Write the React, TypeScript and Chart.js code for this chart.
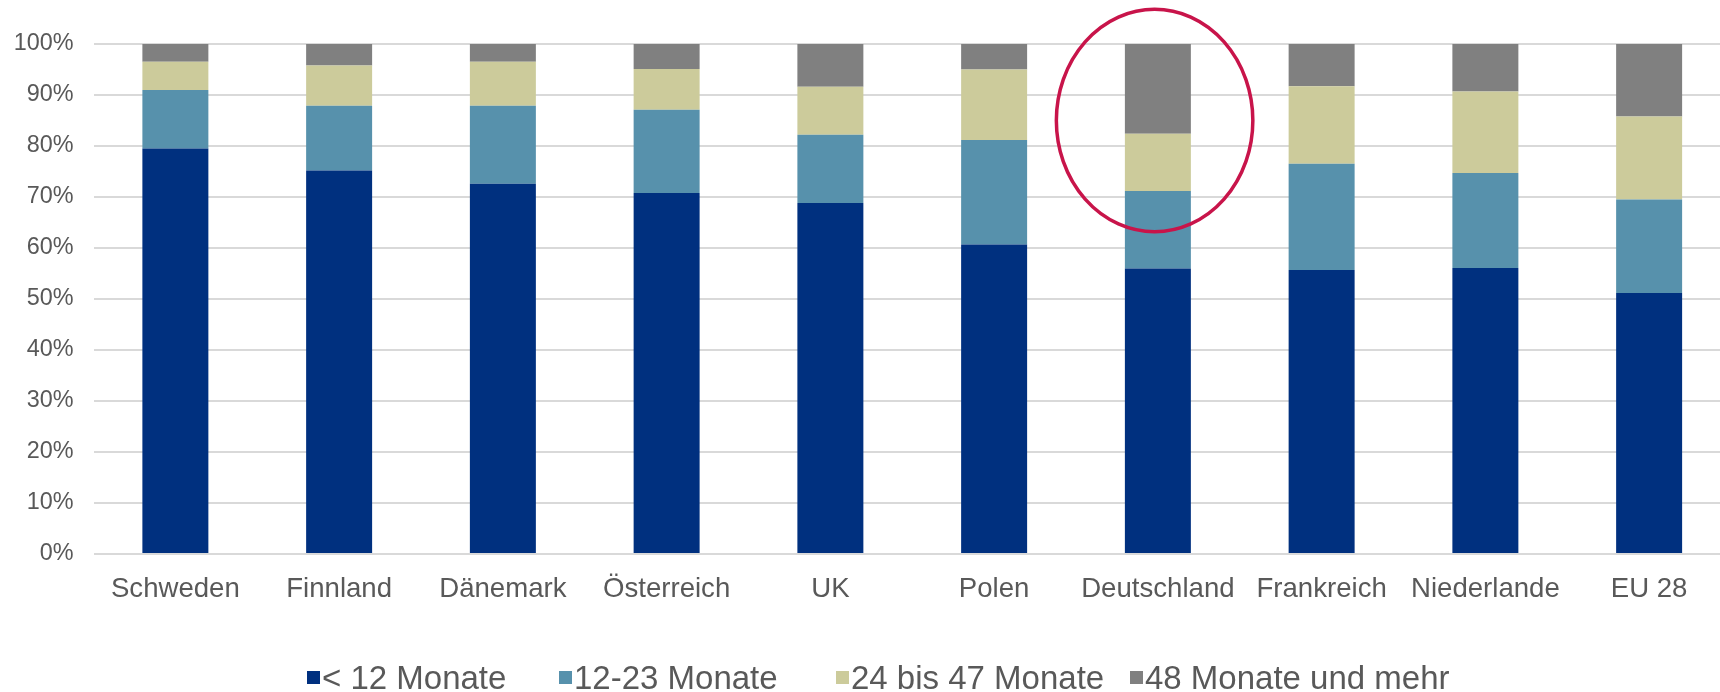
import React, { useEffect, useRef } from "react";
import { Chart, registerables } from "chart.js";

Chart.register(...registerables);

const categories = [
  "Schweden",
  "Finnland",
  "Dänemark",
  "Österreich",
  "UK",
  "Polen",
  "Deutschland",
  "Frankreich",
  "Niederlande",
  "EU 28",
];
const seriesNames = ["< 12 Monate", "12-23 Monate", "24 bis 47 Monate", "48 Monate und mehr"];
const under12 = [79.5, 75.2, 72.6, 70.8, 68.8, 60.7, 56.0, 55.7, 56.1, 51.2];
const months12to23 = [11.5, 12.7, 15.3, 16.3, 13.4, 20.5, 15.2, 20.8, 18.6, 18.3];
const months24to47 = [5.5, 7.9, 8.6, 8.0, 9.4, 13.8, 11.2, 15.2, 16.0, 16.3];
const months48plus = [3.5, 4.2, 3.5, 4.9, 8.4, 5.0, 17.6, 8.3, 9.3, 14.2];
const seriesColors = ["#00307F", "#5791AC", "#CCCB9B", "#808080"];

// highlight annotation (red ellipse) around one category
const highlightCategory = "Deutschland";
const highlightCenterValue = 85;
const highlightHalfSpanValue = 21.8;
const highlightHalfSpanCategories = 0.6;
const highlightShiftCategories = -0.02;

// legend item left positions (layout)
const legendLefts = [307, 559, 836, 1130];

const FONT = "'Liberation Sans', Arial, sans-serif";
const TEXT = "#595959";

const ellipsePlugin = {
  id: "highlightEllipse",
  afterDraw(chart: any) {
    const x = chart.scales.x;
    const y = chart.scales.y;
    const i = categories.indexOf(highlightCategory);
    const step = x.getPixelForValue(1) - x.getPixelForValue(0);
    const cx = x.getPixelForValue(i) + step * highlightShiftCategories;
    const cy = y.getPixelForValue(highlightCenterValue);
    const ry = y.getPixelForValue(highlightCenterValue - highlightHalfSpanValue) - cy;
    const ctx = chart.ctx;
    ctx.save();
    ctx.beginPath();
    ctx.ellipse(cx, cy, step * highlightHalfSpanCategories, ry, 0, 0, Math.PI * 2);
    ctx.strokeStyle = "#C8144A";
    ctx.lineWidth = 3.5;
    ctx.stroke();
    ctx.restore();
  },
};

export default function App() {
  const ref = useRef<HTMLCanvasElement>(null);

  useEffect(() => {
    if (!ref.current) return;
    const seriesData = [under12, months12to23, months24to47, months48plus];
    const chart = new Chart(ref.current, {
      type: "bar",
      data: {
        labels: categories,
        datasets: seriesNames.map((name, k) => ({
          label: name,
          data: seriesData[k],
          backgroundColor: seriesColors[k],
          borderWidth: 0,
          categoryPercentage: 1,
          barPercentage: 0.403,
        })),
      },
      options: {
        responsive: false,
        animation: false,
        devicePixelRatio: 1,
        layout: { padding: { top: 44, right: 9, bottom: 0, left: 0 } },
        plugins: {
          legend: { display: false },
          tooltip: { enabled: false },
        },
        scales: {
          x: {
            stacked: true,
            grid: { display: false, drawTicks: false },
            border: { display: false },
            ticks: {
              font: { family: FONT, size: 27.6 },
              color: TEXT,
              padding: 19,
              maxRotation: 0,
              autoSkip: false,
            },
            afterFit: (s: any) => {
              s.height = 138;
            },
          },
          y: {
            stacked: true,
            min: 0,
            max: 100,
            grid: { color: "#D9D9D9", lineWidth: 2, drawTicks: false },
            border: { display: false },
            ticks: {
              stepSize: 10,
              font: { family: FONT, size: 23.4 },
              color: TEXT,
              padding: 20,
              callback: (v: any) => v + "%",
            },
            afterFit: (s: any) => {
              s.width = 93.5;
            },
          },
        },
      },
      plugins: [ellipsePlugin],
    });
    return () => chart.destroy();
  }, []);

  return (
    <div
      style={{
        position: "fixed",
        left: 0,
        top: 0,
        width: 1720,
        height: 692,
        overflow: "hidden",
        background: "#fff",
      }}
    >
      <canvas ref={ref} width={1740} height={692} style={{ display: "block", width: 1740, height: 692 }} />
      {seriesNames.map((name, k) => (
        <div
          key={name}
          style={{
            position: "absolute",
            top: 661,
            left: legendLefts[k],
            display: "flex",
            alignItems: "center",
            fontFamily: FONT,
            fontSize: 33,
            lineHeight: 1,
            color: TEXT,
            whiteSpace: "nowrap",
          }}
        >
          <span
            style={{
              display: "inline-block",
              width: 13,
              height: 13,
              background: seriesColors[k],
              marginRight: 2,
            }}
          />
          <span>{name}</span>
        </div>
      ))}
    </div>
  );
}
